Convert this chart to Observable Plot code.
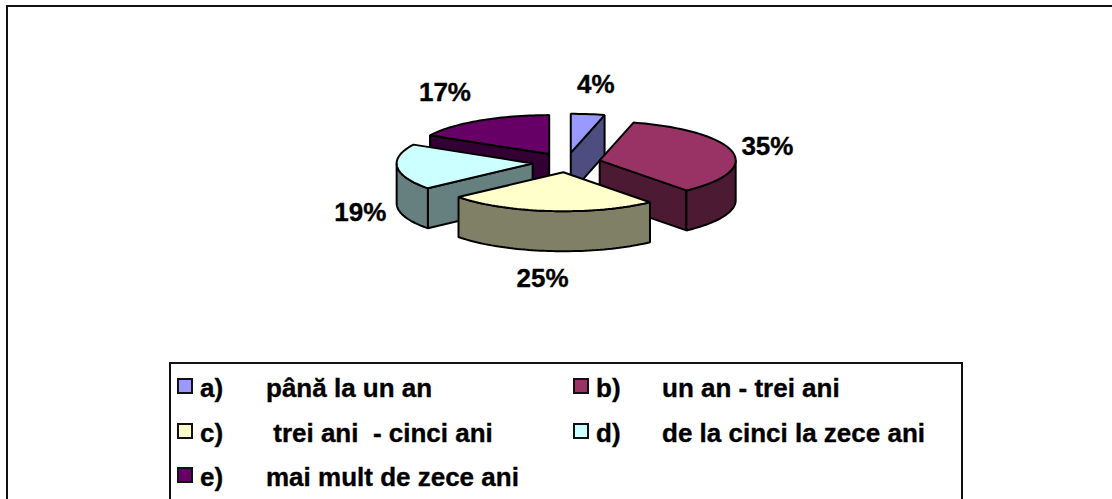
<!DOCTYPE html>
<html>
<head>
<meta charset="utf-8">
<script src="https://cdn.jsdelivr.net/npm/d3@7"></script>
<script src="https://cdn.jsdelivr.net/npm/@observablehq/plot@0.6"></script>
<style>
  html, body { margin: 0; padding: 0; background: #fff; overflow: hidden; }
  body { width: 1112px; height: 499px; position: relative; font-family: "Liberation Sans", Arial, sans-serif; font-weight: 700; color: #000; }
  #frame { position: absolute; left: 6px; top: 5px; right: 0; bottom: 0; border-left: 2px solid #111; border-top: 2px solid #111; }
  #chart { position: absolute; left: 0; top: 0; }
  #chart svg { display: block; background: transparent; }
  #legend { position: absolute; left: 169px; top: 362px; width: 790px; border: 2px solid #111; background: #fff;
            display: grid; grid-template-columns: 396px 1fr; grid-auto-rows: 44.5px; padding-top: 2px; height: 133px; box-sizing: content-box; }
  .item { position: relative; font-size: 26px; line-height: 44.5px; white-space: pre; -webkit-text-stroke: 0.35px #000; }
  .swatch { position: absolute; left: 6px; top: 12px; width: 12px; height: 12px; border: 2px solid #111; }
  .key { position: absolute; left: 29px; }
  .name { position: absolute; left: 95px; }
</style>
</head>
<body>
<div id="frame"></div>
<div id="chart"></div>
<div id="legend"></div>
<script>
const keys = ["a)", "b)", "c)", "d)", "e)"];
const names = ["până la un an", "un an - trei ani", " trei ani  - cinci ani", "de la cinci la zece ani", "mai mult de zece ani"];
const shares = [4, 35, 25, 19, 17];
const topColors = ["#9999ff", "#993366", "#ffffcc", "#ccffff", "#660066"];
const sideColors = ["#4d4d80", "#4d1a33", "#808066", "#668080", "#330033"];

// layout settings (not data)
const explode = 0.25;
const depth = 40 / 39;
const drawOrder = [4, 3, 0, 1, 2];
const labelNudge = [[8, -29], [35, -5], [-8, 68], [-37, 46], [-35, -28]];

const total = d3.sum(shares);
const cum = d3.cumsum(shares);
const slices = shares.map((v, i) => {
  const a0 = ((cum[i] - v) / total) * 2 * Math.PI;
  const a1 = (cum[i] / total) * 2 * Math.PI;
  const mid = (a0 + a1) / 2;
  return { i, v, a0, a1, mid, ox: explode * Math.sin(mid), oy: explode * Math.cos(mid) };
});

function arc(s, from, to, dz) {
  const n = Math.max(2, Math.ceil((to - from) / 0.03));
  return d3.range(n + 1).map(k => {
    const t = from + (to - from) * k / n;
    return [s.ox + Math.sin(t), s.oy + Math.cos(t) - dz];
  });
}
const faces = [];
function pushFace(id, color, pts) {
  pts.forEach(p => faces.push({ id, color, x: p[0], y: p[1] }));
}
for (const i of drawOrder) {
  const s = slices[i];
  const apex = [s.ox, s.oy];
  const apexLow = [s.ox, s.oy - depth];
  const side = sideColors[i];
  const corner = a => [s.ox + Math.sin(a), s.oy + Math.cos(a)];
  const cornerLow = a => [s.ox + Math.sin(a), s.oy + Math.cos(a) - depth];
  if (s.a0 > Math.PI && s.a0 < 2 * Math.PI) pushFace(`s${i}`, side, [apex, corner(s.a0), cornerLow(s.a0), apexLow]);
  if (s.a1 > 0 && s.a1 < Math.PI) pushFace(`e${i}`, side, [apex, corner(s.a1), cornerLow(s.a1), apexLow]);
  const w0 = Math.max(s.a0, Math.PI / 2), w1 = Math.min(s.a1, 3 * Math.PI / 2);
  if (w1 > w0) pushFace(`w${i}`, side, [...arc(s, w0, w1, 0), ...arc(s, w0, w1, depth).reverse()]);
  pushFace(`t${i}`, topColors[i], [apex, ...arc(s, s.a0, s.a1, 0)]);
}

const labelMarks = slices.map(s => Plot.text([s], {
  x: d => Math.sin(d.mid) + d.ox,
  y: d => Math.cos(d.mid) + d.oy,
  text: d => `${d.v}%`,
  dx: labelNudge[s.i][0],
  dy: labelNudge[s.i][1],
  fontSize: 26,
  fontWeight: 700,
  fontFamily: "Liberation Sans",
  fill: "#000",
  stroke: "#000",
  strokeWidth: 0.35,
  textAnchor: "middle"
}));

const cx = 566, cy = 162, rx = 136, ry = 39;
const plot = Plot.plot({
  width: 1112,
  height: 356,
  margin: 0,
  x: { domain: [-1, 1], range: [cx - rx, cx + rx], axis: null },
  y: { domain: [-1, 1], range: [cy + ry, cy - ry], axis: null },
  marks: [
    Plot.line(faces, {
      x: "x", y: "y", z: "id", fill: "color", stroke: "#000", strokeWidth: 2,
      curve: "linear-closed", strokeLinejoin: "miter"
    }),
    ...labelMarks
  ]
});
document.getElementById("chart").appendChild(plot);

const legend = d3.select("#legend");
keys.forEach((k, i) => {
  const it = legend.append("div").attr("class", "item");
  it.append("span").attr("class", "swatch").style("background", topColors[i]);
  it.append("span").attr("class", "key").text(k);
  it.append("span").attr("class", "name").text(names[i]);
});
</script>
</body>
</html>
